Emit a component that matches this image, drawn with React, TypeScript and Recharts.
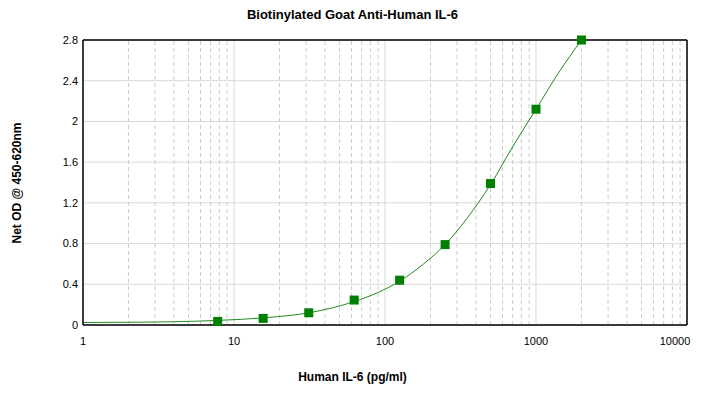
import {
  ComposedChart,
  Line,
  Scatter,
  XAxis,
  YAxis,
  CartesianGrid,
  ReferenceLine,
} from "recharts";

// standards (pg/ml) and measured OD
const concentrations = [7.8, 15.6, 31.25, 62.5, 125, 250, 500, 1000, 2000];
const odValues = [0.035, 0.065, 0.12, 0.245, 0.44, 0.79, 1.39, 2.12, 2.8];

// fitted curve
const curveX = [1, 2, 4, 7.8, 15.6, 31.25, 62.5, 90, 125, 180, 250, 350, 500, 700, 1000, 1400, 2000];
const curveY = [0.025, 0.027, 0.032, 0.045, 0.07, 0.12, 0.23, 0.32, 0.43, 0.6, 0.79, 1.05, 1.38, 1.75, 2.12, 2.47, 2.8];

const xTicks = [1, 10, 100, 1000, 10000];
const yTicks = [0, 0.4, 0.8, 1.2, 1.6, 2, 2.4, 2.8];
const minorTicks = [10, 100, 1000, 10000].flatMap((d) =>
  [2, 3, 4, 5, 6, 7, 8, 9].map((m) => (m * d) / 10)
);

const points = concentrations.map((x, i) => ({ x, y: odValues[i] }));
const curve = curveX.map((x, i) => ({ x, y: curveY[i] }));

const font = "Arial, 'Liberation Sans', sans-serif";

const Square = (props: any) => {
  const { cx, cy } = props;
  return <rect x={cx - 4.5} y={cy - 4.5} width={9} height={9} fill="#008000" />;
};

const XTick = (props: any) => {
  const { x, y, payload } = props;
  const shift = payload.value === 10000 ? -10 : 0;
  return (
    <text x={x + shift} y={y + 12} textAnchor="middle" fontSize={11} fill="#000" fontFamily={font}>
      {payload.value}
    </text>
  );
};

export default function App() {
  return (
    <div style={{ position: "absolute", left: 0, top: 0, width: 705, height: 396, background: "#fff", fontFamily: font }}>
      <div style={{ position: "absolute", top: 7, left: 0, width: 705, textAlign: "center", fontSize: 13, fontWeight: "bold" }}>
        Biotinylated Goat Anti-Human IL-6
      </div>
      <div
        style={{
          position: "absolute",
          left: 17,
          top: 183,
          transform: "translate(-50%, -50%) rotate(-90deg)",
          whiteSpace: "nowrap",
          fontSize: 12,
          fontWeight: "bold",
        }}
      >
        Net OD @ 450-620nm
      </div>
      <div style={{ position: "absolute", top: 370, left: 0, width: 705, textAlign: "center", fontSize: 12, fontWeight: "bold" }}>
        Human IL-6 (pg/ml)
      </div>
      <ComposedChart width={705} height={396} margin={{ top: 40, right: 18, bottom: 0, left: 0 }}>
        <CartesianGrid stroke="#d9d9d9" ticks={xTicks} />
        {minorTicks.map((t) => (
          <ReferenceLine key={t} x={t} stroke="#cccccc" strokeDasharray="4 3" />
        ))}
        <XAxis
          dataKey="x"
          type="number"
          scale="log"
          domain={[1, 10000]}
          ticks={xTicks}
          allowDataOverflow
          height={71}
          tickLine={false}
          tick={<XTick />}
          axisLine={{ stroke: "#000", strokeWidth: 1.5 }}
        />
        <YAxis
          type="number"
          domain={[0, 2.8]}
          ticks={yTicks}
          width={83}
          tickLine={false}
          tickSize={0}
          tickMargin={5}
          tick={{ fontSize: 11, fill: "#000", fontFamily: font }}
          axisLine={{ stroke: "#000", strokeWidth: 1.5 }}
        />
        <ReferenceLine y={2.8} stroke="#000" strokeWidth={1.5} />
        <ReferenceLine x={10000} stroke="#000" strokeWidth={1.5} />
        <Line
          data={curve}
          dataKey="y"
          type="monotone"
          stroke="#1c8c1c"
          strokeWidth={1}
          dot={false}
          isAnimationActive={false}
        />
        <Scatter data={points} dataKey="y" shape={<Square />} isAnimationActive={false} />
      </ComposedChart>
    </div>
  );
}
